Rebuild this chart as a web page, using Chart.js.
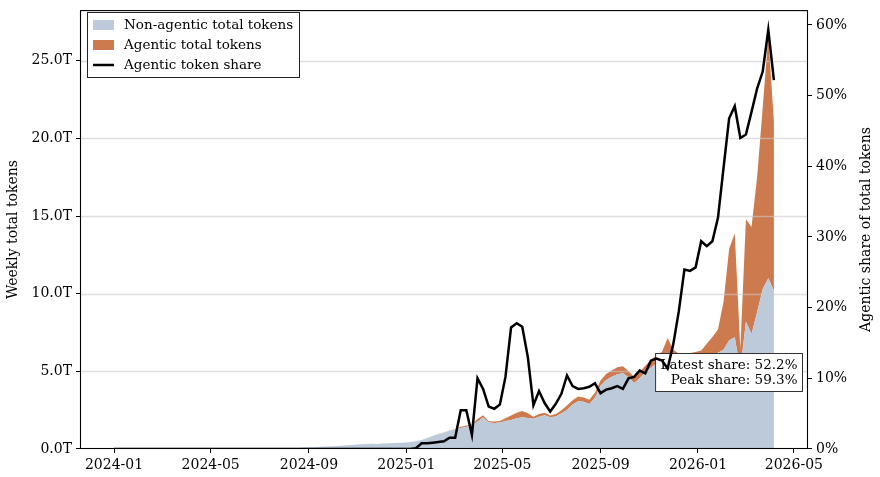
<!DOCTYPE html>
<html>
<head>
<meta charset="utf-8">
<script src="https://cdn.jsdelivr.net/npm/chart.js@4.4.1/dist/chart.umd.min.js"></script>
<style>
  html, body { margin: 0; padding: 0; background: #fff; }
  canvas { display: block; }
</style>
</head>
<body>
<canvas id="tokenChart" width="880" height="477"></canvas>
<script>
// weekly series, first week starts 2024-01-01
const firstWeek = '2024-01-01';

// non-agentic weekly tokens, trillions
const nonAgentic = [
  0.01, 0.01, 0.01, 0.01, 0.01, 0.01,
  0.015, 0.015, 0.015, 0.015, 0.015, 0.015, 0.015, 0.015, 0.015, 0.015,
  0.02, 0.02, 0.02, 0.02, 0.02, 0.02, 0.02, 0.02, 0.02, 0.02,
  0.03, 0.03, 0.03, 0.03, 0.03,
  0.04, 0.05, 0.07, 0.09, 0.11, 0.12, 0.14, 0.16, 0.18, 0.2,
  0.22, 0.25, 0.28, 0.3, 0.32, 0.34, 0.33, 0.35, 0.37, 0.38,
  0.4, 0.42, 0.45,
  0.5, 0.58, 0.7, 0.83, 0.95, 1.05, 1.17, 1.27, 1.36, 1.43, 1.55, 1.75,
  2.03, 1.70, 1.68, 1.70, 1.80, 1.86, 1.98, 2.05, 2.00, 1.95,
  2.08, 2.18, 2.04, 2.10, 2.30, 2.52, 2.86, 3.08, 3.04, 2.90,
  3.30, 4.08, 4.45, 4.65, 4.82, 4.88, 4.62, 4.25, 4.55, 4.92,
  5.25, 5.50, 5.65, 5.95, 5.85, 5.85, 5.85, 5.90, 5.95, 6.00,
  6.08, 6.12, 6.20, 6.40, 7.00, 7.20, 5.10, 8.20, 7.40, 8.80,
  10.30, 11.00, 10.20
];

// agentic weekly tokens, trillions
const agentic = [
  0, 0, 0, 0, 0, 0, 0, 0, 0, 0,
  0, 0, 0, 0, 0, 0, 0, 0, 0, 0,
  0, 0, 0, 0, 0, 0, 0, 0, 0, 0,
  0, 0, 0, 0, 0, 0, 0, 0, 0, 0,
  0, 0, 0, 0, 0, 0, 0, 0, 0, 0,
  0, 0, 0, 0,
  0, 0.005, 0.006, 0.008, 0.01, 0.012, 0.02, 0.02, 0.08, 0.08, 0.03, 0.19,
  0.15, 0.08, 0.09, 0.11, 0.18, 0.30, 0.36, 0.40, 0.30, 0.12,
  0.18, 0.16, 0.11, 0.15, 0.20, 0.28, 0.28, 0.30, 0.28, 0.27,
  0.32, 0.34, 0.38, 0.40, 0.45, 0.45, 0.40, 0.38, 0.42, 0.45,
  0.50, 0.52, 0.62, 1.20, 0.55, 0.30, 0.28, 0.28, 0.30, 0.35,
  0.70, 1.10, 1.50, 3.10, 5.90, 6.70, 1.35, 6.60, 6.90, 8.70,
  11.70, 15.60, 10.90
];

// agentic share of total tokens, percent
const agenticShare = [
  0, 0, 0, 0, 0, 0, 0, 0, 0, 0,
  0, 0, 0, 0, 0, 0, 0, 0, 0, 0,
  0, 0, 0, 0, 0, 0, 0, 0, 0, 0,
  0, 0, 0, 0, 0, 0, 0, 0, 0, 0,
  0, 0, 0, 0, 0, 0, 0, 0, 0, 0,
  0, 0, 0, 0,
  0.1, 0.8, 0.8, 0.9, 1.0, 1.1, 1.6, 1.6, 5.5, 5.5, 2.0, 10.0,
  8.5, 6.0, 5.7, 6.3, 10.2, 17.2, 17.8, 17.3, 13.0, 6.2,
  8.2, 6.5, 5.3, 6.4, 7.8, 10.4, 8.9, 8.5, 8.6, 8.8,
  9.3, 7.9, 8.4, 8.6, 8.9, 8.5, 10.0, 10.2, 11.1, 10.7,
  12.5, 12.8, 12.5, 11.4, 14.8, 19.5, 25.4, 25.2, 25.7, 29.4,
  28.7, 29.4, 32.7, 39.8, 46.8, 48.5, 44.0, 44.5, 47.7, 51.0,
  53.4, 59.3, 52.2
];

const xTickLabels = ['2024-01', '2024-05', '2024-09', '2025-01', '2025-05', '2025-09', '2026-01', '2026-05'];
const leftTicks = [0, 5, 10, 15, 20, 25];
const rightTicks = [0, 10, 20, 30, 40, 50, 60];

const DAY = 86400000;
const startMs = Date.parse(firstWeek + 'T00:00:00Z');
const toDays = s => (Date.parse(s + '-01T00:00:00Z') - startMs) / DAY;
const xTickDays = xTickLabels.map(toDays);
const weekDays = nonAgentic.map((_, i) => i * 7);

const pts = arr => arr.map((v, i) => ({ x: weekDays[i], y: v }));

const serif = "'DejaVu Serif', 'Liberation Serif', serif";
const blue = 'rgb(189, 202, 218)';
const orange = 'rgb(205, 122, 78)';

const latestShare = agenticShare[agenticShare.length - 1];
const peakShare = Math.max(...agenticShare);

const decor = {
    id: 'decor',
    beforeDatasetDraw(chart, args) {
        if (args.index !== 0) return;
        const { ctx, chartArea: a, scales } = chart;
        ctx.save();
        // horizontal grid above the areas, under the share line
        ctx.strokeStyle = 'rgba(200, 200, 200, 0.6)';
        ctx.lineWidth = 1.5;
        leftTicks.forEach(v => {
            if (v === 0) return;
            const y = Math.round(scales.y.getPixelForValue(v)) + 0.5;
            ctx.beginPath();
            ctx.moveTo(a.left, y);
            ctx.lineTo(a.right, y);
            ctx.stroke();
        });
        // share annotation box
        ctx.font = '13.5px ' + serif;
        const l1 = 'Latest share: ' + latestShare.toFixed(1) + '%';
        const l2 = 'Peak share: ' + peakShare.toFixed(1) + '%';
        const w = Math.max(ctx.measureText(l1).width, ctx.measureText(l2).width);
        const right = a.right - 5.5, top = 353.5, h = 38;
        const left = right - w - 10;
        ctx.fillStyle = '#fff';
        ctx.fillRect(left, top, right - left, h);
        ctx.strokeStyle = '#333';
        ctx.lineWidth = 1;
        ctx.strokeRect(left, top, right - left, h);
        ctx.fillStyle = '#000';
        ctx.textAlign = 'right';
        ctx.textBaseline = 'middle';
        ctx.fillText(l1, right - 5, top + 12);
        ctx.fillText(l2, right - 5, top + 27);
        ctx.restore();
    },
    afterDraw(chart) {
        const { ctx, chartArea: a } = chart;
        ctx.save();
        // frame
        ctx.strokeStyle = '#000';
        ctx.lineWidth = 1.1;
        ctx.strokeRect(a.left + 0.5, a.top + 0.5, a.right - a.left - 1, a.bottom - a.top - 1);
        // right axis title, reading upward
        ctx.translate(866, (a.top + a.bottom) / 2);
        ctx.rotate(-Math.PI / 2);
        ctx.font = '14px ' + serif;
        ctx.fillStyle = '#000';
        ctx.textAlign = 'center';
        ctx.textBaseline = 'middle';
        ctx.fillText('Agentic share of total tokens', 0, 0);
        ctx.restore();

        // legend
        ctx.save();
        const lx = 87.5, ly = 12.5, lw = 212, lh = 65;
        ctx.fillStyle = '#fff';
        ctx.fillRect(lx, ly, lw, lh);
        ctx.strokeStyle = '#222';
        ctx.lineWidth = 1;
        ctx.strokeRect(lx, ly, lw, lh);
        const items = [
            { label: 'Non-agentic total tokens', type: 'box', color: blue },
            { label: 'Agentic total tokens', type: 'box', color: orange },
            { label: 'Agentic token share', type: 'line', color: '#000' }
        ];
        ctx.font = '13.5px ' + serif;
        ctx.textBaseline = 'middle';
        items.forEach((it, i) => {
            const cy = 25 + i * 20;
            if (it.type === 'box') {
                ctx.fillStyle = it.color;
                ctx.fillRect(93, cy - 5, 21, 10);
            } else {
                ctx.strokeStyle = it.color;
                ctx.lineWidth = 2.5;
                ctx.beginPath();
                ctx.moveTo(93, cy);
                ctx.lineTo(114, cy);
                ctx.stroke();
            }
            ctx.fillStyle = '#000';
            ctx.fillText(it.label, 124, cy);
        });
        ctx.restore();
    }
};

const tickFont = { family: serif, size: 14 };
// short line height keeps the top label padding from pushing the plot down
const yTickFont = { family: serif, size: 14, lineHeight: 0.87 };

new Chart(document.getElementById('tokenChart').getContext('2d'), {
    type: 'line',
    data: {
        datasets: [{
            label: 'Agentic token share',
            data: pts(agenticShare),
            yAxisID: 'y1',
            borderColor: '#000',
            borderWidth: 2.5,
            pointRadius: 0,
            fill: false,
            tension: 0,
            order: 0
        }, {
            label: 'Non-agentic total tokens',
            data: pts(nonAgentic),
            yAxisID: 'y',
            backgroundColor: blue,
            borderColor: 'rgba(0,0,0,0)',
            borderWidth: 0,
            pointRadius: 0,
            fill: 'origin',
            tension: 0,
            order: 1
        }, {
            label: 'Agentic total tokens',
            data: pts(agentic),
            yAxisID: 'y',
            backgroundColor: orange,
            borderColor: 'rgba(0,0,0,0)',
            borderWidth: 0,
            pointRadius: 0,
            fill: '-1',
            tension: 0,
            order: 1
        }]
    },
    options: {
        responsive: false,
        animation: false,
        devicePixelRatio: 1,
        layout: { padding: { top: 0, left: 0, right: 0, bottom: 0 } },
        plugins: {
            legend: { display: false },
            tooltip: { enabled: false }
        },
        scales: {
            x: {
                type: 'linear',
                min: -42.6,
                max: 868.7,
                afterBuildTicks: s => { s.ticks = xTickDays.map(v => ({ value: v })); },
                afterFit: s => { s.height = 28; },
                ticks: {
                    callback: (v, i) => xTickLabels[i],
                    font: tickFont,
                    color: '#000',
                    padding: 4,
                    maxRotation: 0,
                    autoSkip: false
                },
                grid: { drawOnChartArea: false, tickLength: 4, tickColor: '#000' },
                border: { display: false }
            },
            y: {
                position: 'left',
                stacked: true,
                min: 0,
                max: 28.27,
                afterBuildTicks: s => { s.ticks = leftTicks.map(v => ({ value: v })); },
                afterFit: s => { s.width = 80; },
                ticks: {
                    callback: v => v.toFixed(1) + 'T',
                    font: yTickFont,
                    color: '#000',
                    padding: 4
                },
                grid: { drawOnChartArea: false, tickLength: 4, tickColor: '#000' },
                border: { display: false },
                title: {
                    display: true,
                    text: 'Weekly total tokens',
                    font: { family: serif, size: 14 },
                    color: '#000',
                    padding: { top: 5, bottom: 0 }
                }
            },
            y1: {
                position: 'right',
                min: 0,
                max: 62.1,
                afterBuildTicks: s => { s.ticks = rightTicks.map(v => ({ value: v })); },
                afterFit: s => { s.width = 72; },
                ticks: {
                    callback: v => v + '%',
                    font: yTickFont,
                    color: '#000',
                    padding: 4
                },
                grid: { drawOnChartArea: false, tickLength: 4, tickColor: '#000' },
                border: { display: false }
            }
        }
    },
    plugins: [decor]
});
</script>
</body>
</html>
